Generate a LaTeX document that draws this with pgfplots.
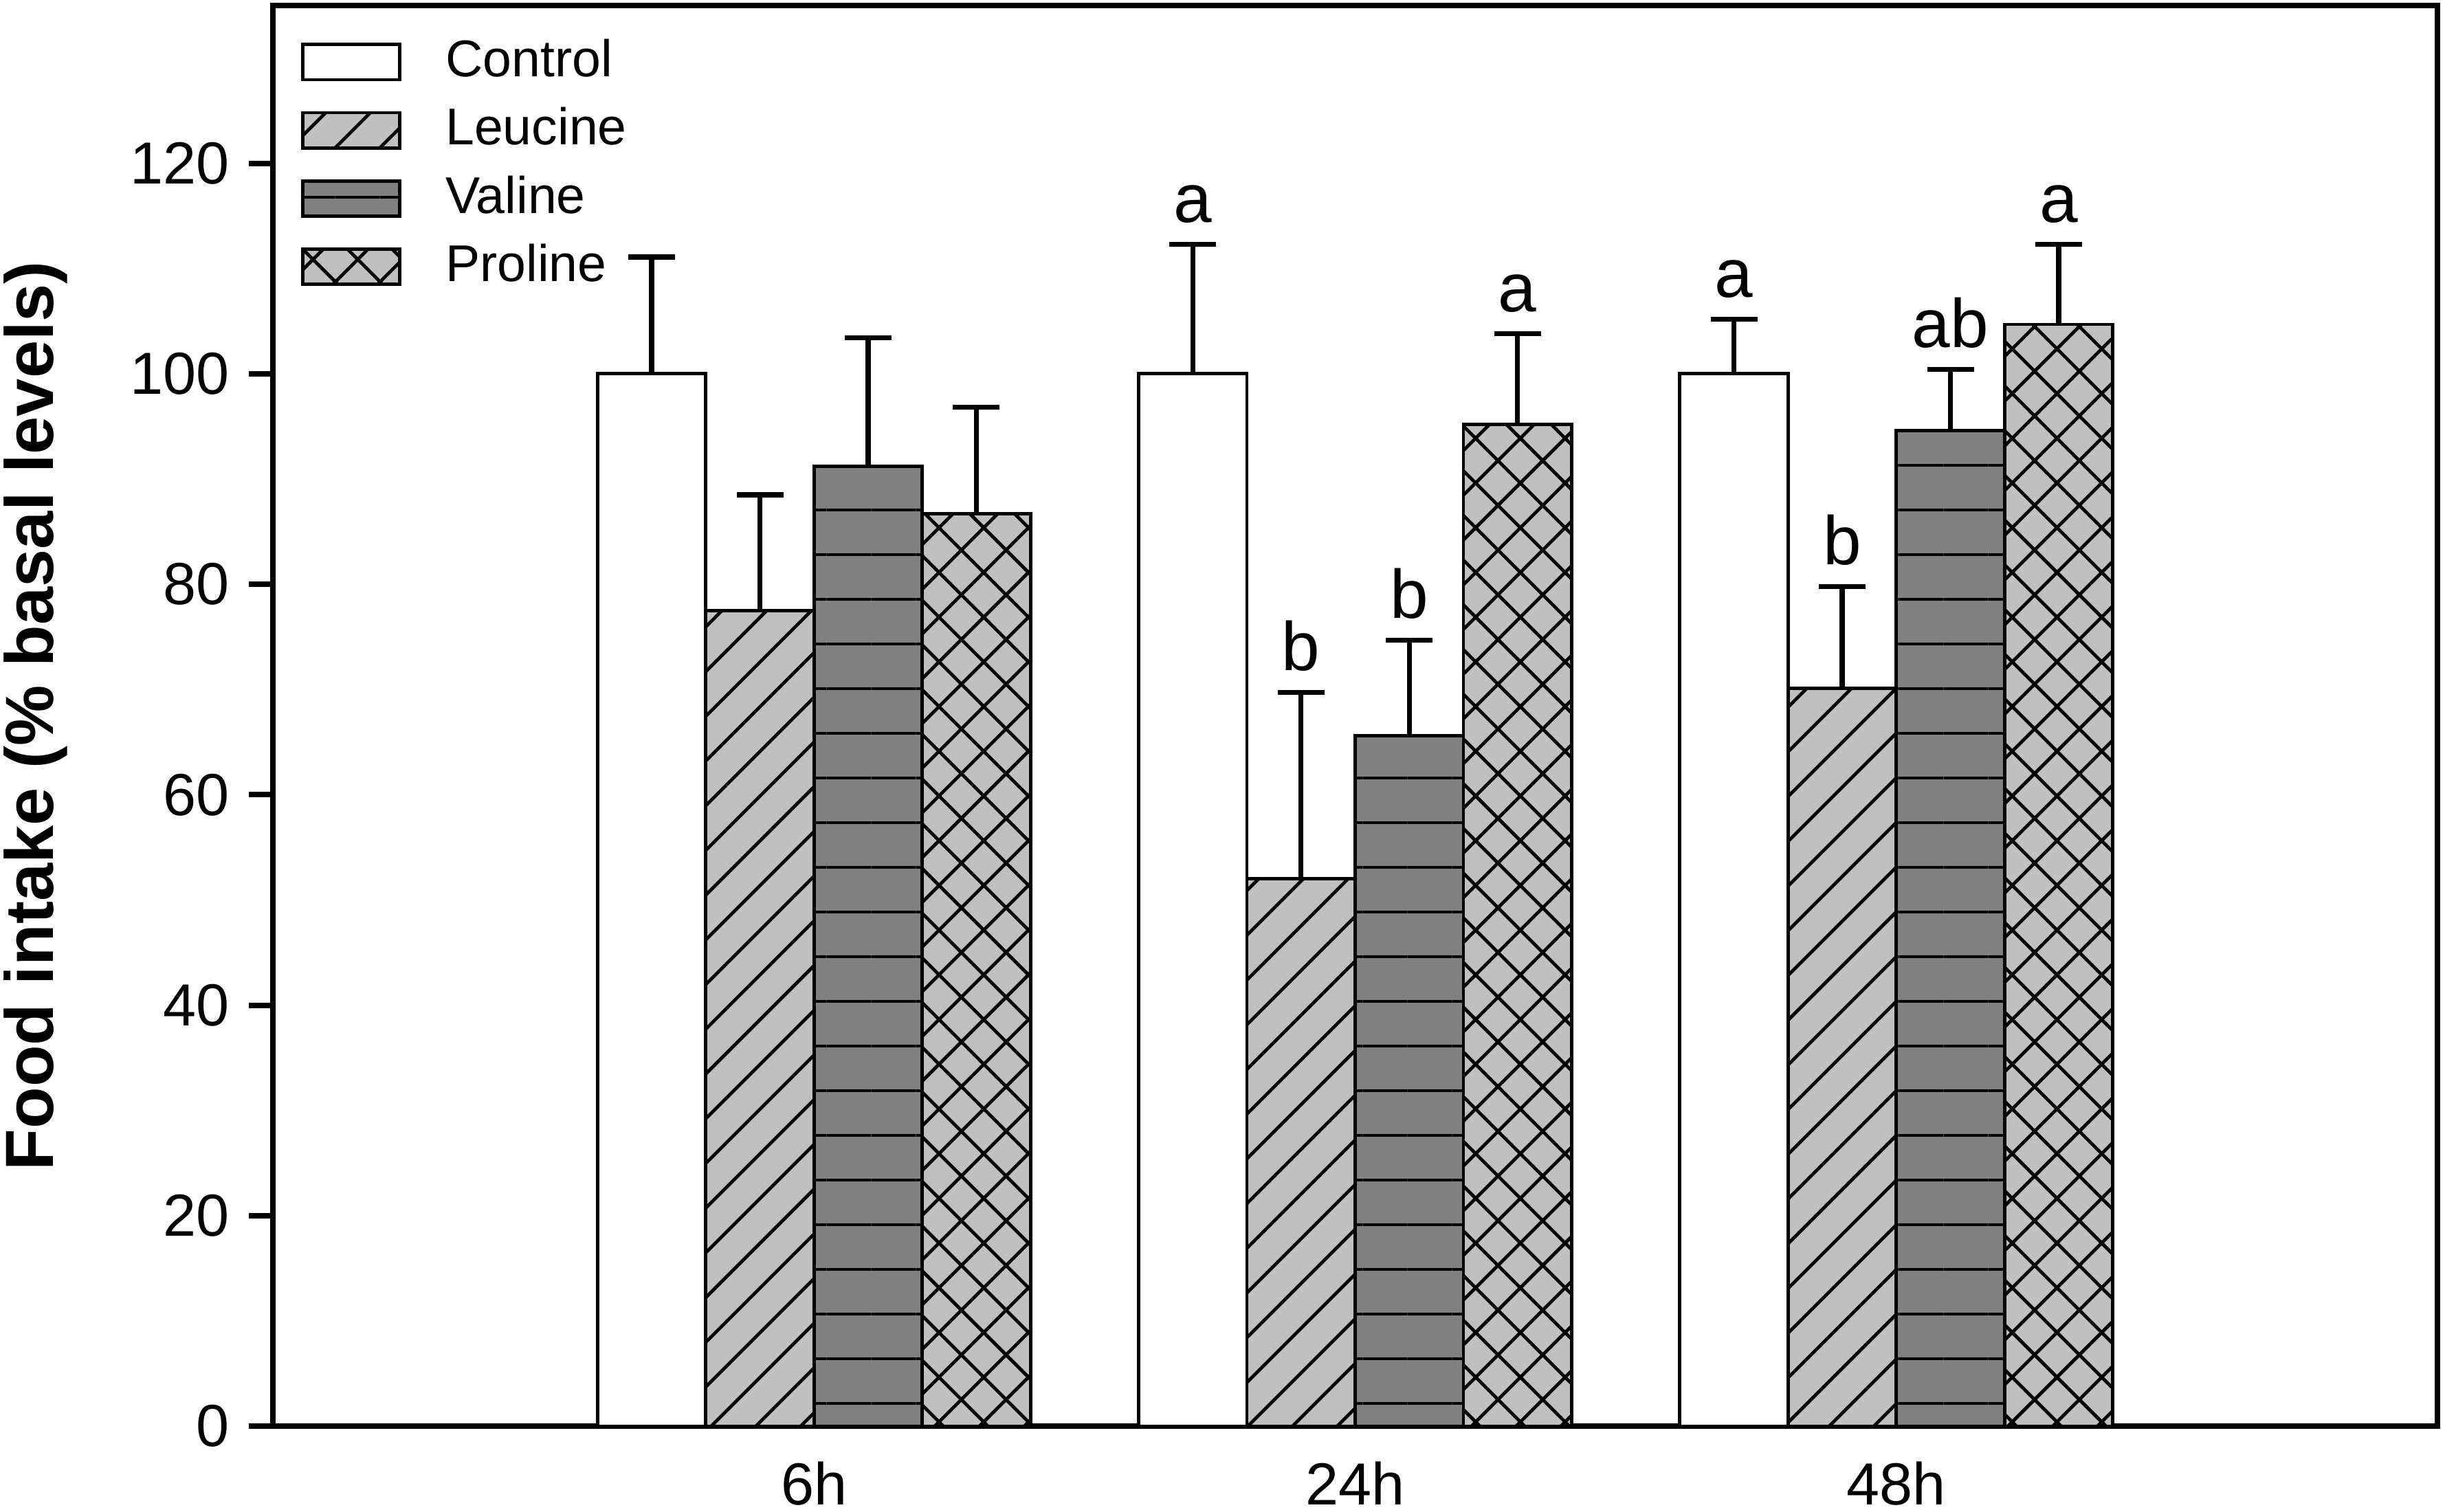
\documentclass[border=0pt]{standalone}
\usepackage{fontspec}
\setmainfont{Liberation Sans}
\usepackage{pgfplots}
\pgfplotsset{compat=1.18}
\usetikzlibrary{patterns.meta}
\definecolor{lgray}{RGB}{192,192,192}
\definecolor{dgray}{RGB}{128,128,128}

\pgfplotsset{
  mybar/.style={draw=black, line width=0.6pt,
    error bars/y dir=plus, error bars/y explicit,
    error bars/error bar style={line width=0.9pt, black},
    error bars/error mark options={rotate=90, line width=0.9pt, mark size=4.25pt, black}},
  mylegend/.style={legend image code/.code={\draw[##1, line width=0.6pt] (0pt,-3.2pt) rectangle (17.6pt,3.2pt);}},
}

\begin{document}
\begin{tikzpicture}
\useasboundingbox (-49.625pt,-15.5pt) rectangle (395pt,259.375pt);
\begin{axis}[
  at={(0,0)}, anchor=south west,
  scale only axis, width=393.625pt, height=258.375pt,
  xmin=0, xmax=4, ymin=0, ymax=135,
  ybar, bar width=0.2,
  xtick={1,2,3}, xticklabels={6h,24h,48h},
  ytick={0,20,40,60,80,100,120},
  ytick pos=left, xtick pos=bottom,
  tick align=outside,
  major tick length=4.4pt,
  x tick style={draw=none},
  y tick style={line width=1pt, black},
  axis line style={line width=1pt, black},
  /pgf/number format/assume math mode=true,
  ticklabel style={font=\fontsize{10.8}{12}\selectfont},
  xticklabel style={yshift=1.5pt},
  ylabel={\bfseries Food intake (\% basal levels)},
  every axis y label/.style={at={(axis description cs:-0.1097,0.5)}, rotate=90, anchor=center, font=\fontsize{12.4}{14}\selectfont},
  legend style={at={(axis description cs:0.0125,0.977)}, anchor=north west, draw=none, fill=none,
    font=\fontsize{9.4}{11}\selectfont, row sep=4.1pt, column sep=8.1pt, inner sep=0pt,
    nodes={inner sep=0pt}},
  legend cell align=left,
  clip=false,
]
\addplot[mybar, fill=white, bar shift=-0.3, mylegend] coordinates {
  (1,100) +- (0,11.1)
  (2,100) +- (0,12.3)
  (3,100) +- (0,5.2)
};
\addplot[mybar, fill=lgray, postaction={pattern={Lines[angle=45,distance=5.75pt,line width=0.6pt]}, pattern color=black}, bar shift=-0.1, mylegend] coordinates {
  (1,77.5) +- (0,11.0)
  (2,52.0) +- (0,17.7)
  (3,70.1) +- (0,9.7)
};
\addplot[mybar, fill=dgray, postaction={pattern={Lines[angle=0,distance=8.125pt,yshift=3.375pt,line width=0.6pt]}, pattern color=black}, bar shift=0.1, mylegend] coordinates {
  (1,91.2) +- (0,12.2)
  (2,65.6) +- (0,9.1)
  (3,94.6) +- (0,5.8)
};
\addplot[mybar, fill=lgray, postaction={pattern={Hatch[angle=45,distance=5.75pt,line width=0.6pt]}, pattern color=black}, bar shift=0.3, mylegend] coordinates {
  (1,86.7) +- (0,10.1)
  (2,95.2) +- (0,8.6)
  (3,104.7) +- (0,7.6)
};
\legend{Control,Leucine,Valine,Proline}

\begin{scope}[font=\fontsize{12.5}{14}\selectfont]
\node[anchor=base, yshift=4pt] at (axis cs:1.7,112.3) {a};
\node[anchor=base, yshift=4pt] at (axis cs:1.9,69.7) {b};
\node[anchor=base, yshift=4pt] at (axis cs:2.1,74.7) {b};
\node[anchor=base, yshift=4pt] at (axis cs:2.3,103.8) {a};
\node[anchor=base, yshift=4pt] at (axis cs:2.7,105.2) {a};
\node[anchor=base, yshift=4pt] at (axis cs:2.9,79.8) {b};
\node[anchor=base, yshift=4pt] at (axis cs:3.1,100.4) {ab};
\node[anchor=base, yshift=4pt] at (axis cs:3.3,112.3) {a};
\end{scope}
\end{axis}
\end{tikzpicture}
\end{document}
